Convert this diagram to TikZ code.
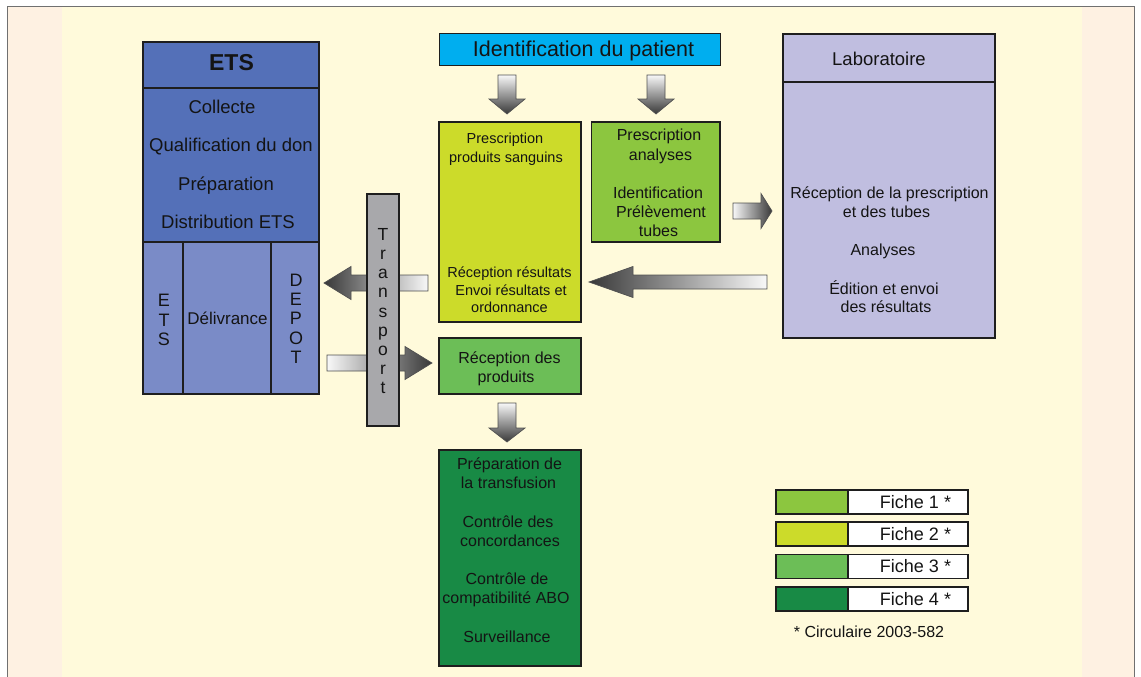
\documentclass[tikz,border=0pt]{standalone}
\usepackage{fontspec}
\setmainfont{Liberation Sans}
\definecolor{bgyel}{HTML}{FFFADB}
\definecolor{bgpeach}{HTML}{FEF1E2}
\definecolor{framegray}{HTML}{707070}
\definecolor{etsblue}{HTML}{5470B8}
\definecolor{etslight}{HTML}{7A8BC7}
\definecolor{trgray}{HTML}{A8A8AB}
\definecolor{idcyan}{HTML}{00AEEF}
\definecolor{ficheA}{HTML}{8CC63F}
\definecolor{ficheB}{HTML}{CCDB2A}
\definecolor{ficheC}{HTML}{6CBE57}
\definecolor{ficheD}{HTML}{188A45}
\definecolor{labviolet}{HTML}{C0BEE0}
\definecolor{arrdark}{HTML}{383838}
\definecolor{arrlight}{HTML}{F8F8F8}
\definecolor{arredge}{HTML}{505050}
\definecolor{edge}{HTML}{1E1E1E}
\definecolor{ink}{HTML}{141414}
\begin{document}
\begin{tikzpicture}[x=1pt,y=-1pt,
  box/.style={draw=edge, line width=1.4pt, rectangle, inner sep=0pt, outer sep=0pt, anchor=north west},
  lbl/.style={inner sep=0pt, text height=1.25em, text depth=0em, text=ink},
  fa/.style={lbl, font=\fontsize{14.5}{17}\selectfont},
  fb/.style={lbl, font=\fontsize{16}{19}\selectfont},
  fc/.style={lbl, font=\fontsize{18}{21}\selectfont},
  fd/.style={lbl, font=\fontsize{18.5}{21}\selectfont},
  blockarrow/.style={draw=arredge, line width=0.7pt, line join=miter}
]
\useasboundingbox (0,0) rectangle (1141,677);
\fill[white] (0,0) rectangle (1141,677);
\fill[bgpeach] (8,7) rectangle (1135,677);
\fill[bgyel] (62,7) rectangle (1082,677);
\draw[framegray, line width=1.8pt] (7.5,677) -- (7.5,6.5) -- (1134.5,6.5) -- (1134.5,677);

% ---------- ETS ----------
\node[box, fill=etsblue, minimum width=176pt, minimum height=46pt] (etshead) at (143,42) {};
\node[box, fill=etsblue, minimum width=176pt, minimum height=154pt] (etsbody) at (143,88) {};
\node[box, fill=etslight, minimum width=40pt, minimum height=152pt] (etscol) at (143,242) {};
\node[box, fill=etslight, minimum width=88pt, minimum height=152pt] (deliv) at (183,242) {};
\node[box, fill=etslight, minimum width=48pt, minimum height=152pt] (depot) at (271,242) {};
\node[lbl, font=\fontsize{23}{26}\selectfont\bfseries] (etsT) at (231.5,64.5) {ETS};
\node[fd] (etsA) at (222,107) {Collecte};
\node[fd] (etsB) at (231,145.5) {Qualification du don};
\node[fd] (etsC) at (226,184) {Préparation};
\node[fd] (etsD) at (228,222) {Distribution ETS};
\node[lbl, font=\fontsize{17}{20}\selectfont] (delivT) at (227.5,318.5) {Délivrance};
\foreach \l [count=\i] in {E,T,S}
  \node[fc] (etsl\i) at (164, 281.4+\i*19.2) {\l};
\foreach \l [count=\i] in {D,E,P,O,T}
  \node[fc] (depl\i) at (296, 260.6+\i*19.3) {\l};

% ---------- arrows behind transport ----------
\coordinate (aLtail) at (428,283);
\coordinate (aLtip) at (324,283);
\path[blockarrow, left color=arrdark, right color=arrlight]
  (428,275) -- (351,275) -- (351,266.5) -- (aLtip) -- (351,299.5) -- (351,291) -- (428,291) -- cycle;
\coordinate (aRtail) at (327,363);
\coordinate (aRtip) at (432,363);
\path[blockarrow, left color=arrlight, right color=arrdark]
  (327,355) -- (405,355) -- (405,346.5) -- (aRtip) -- (405,379.5) -- (405,371) -- (327,371) -- cycle;

% ---------- transport ----------
\node[box, fill=trgray, minimum width=32pt, minimum height=232pt] (transport) at (367,194) {};
\foreach \l [count=\i] in {T,r,a,n,s,p,o,r,t}
  \node[lbl, font=\fontsize{17.5}{20}\selectfont] (tr\i) at (383, 214.8+\i*19.2) {\l};

% ---------- patient ----------
\node[box, fill=idcyan, minimum width=281pt, minimum height=32pt] (idp) at (439.5,33.5) {};
\node[lbl, font=\fontsize{21.5}{24}\selectfont] (idpT) at (583.5,50) {Identification du patient};

% down arrows
\path[blockarrow, top color=arrlight, bottom color=arrdark]
  (498,75) -- (516,75) -- (516,99) -- (525,99) -- (507,114) -- (489,99) -- (498,99) -- cycle;
\path[blockarrow, top color=arrlight, bottom color=arrdark]
  (647,75) -- (665,75) -- (665,99) -- (674,99) -- (656,114) -- (638,99) -- (647,99) -- cycle;

% ---------- prescription boxes ----------
\node[box, fill=ficheB, minimum width=142pt, minimum height=200pt] (presc) at (439,122) {};
\node[fa] (pA) at (505,137) {Prescription};
\node[fa] (pB) at (506,156) {produits sanguins};
\node[fa] (pC) at (509.5,271) {Réception résultats};
\node[fa] (pD) at (511,289) {Envoi résultats et};
\node[fa] (pE) at (509.5,306.5) {ordonnance};

\node[box, fill=ficheA, minimum width=128.5pt, minimum height=120pt] (anal) at (591.5,122) {};
\node[fb] (aA) at (659,134.5) {Prescription};
\node[fb] (aB) at (660.5,154) {analyses};
\node[fb] (aC) at (658,192) {Identification};
\node[fb] (aD) at (661,211) {Prélèvement};
\node[fb] (aE) at (658.5,230) {tubes};

% arrow to lab
\path[blockarrow, left color=arrlight, right color=arrdark]
  (733,203) -- (761,203) -- (761,193.5) -- (772,211) -- (761,228.5) -- (761,219) -- (733,219) -- cycle;
% arrow from lab
\path[blockarrow, left color=arrdark, right color=arrlight]
  (767,275) -- (633,275) -- (633,266.5) -- (589,282) -- (633,297.5) -- (633,289) -- (767,289) -- cycle;

% ---------- laboratoire ----------
\node[box, fill=labviolet, minimum width=212pt, minimum height=48pt] (labhead) at (783,34) {};
\node[box, fill=labviolet, minimum width=212pt, minimum height=256pt] (labbody) at (783,82) {};
\node[fd] (labT) at (879,59) {Laboratoire};
\node[fb] (lA) at (889.5,192) {Réception de la prescription};
\node[fb] (lB) at (886.5,211) {et des tubes};
\node[fb] (lC) at (883,249) {Analyses};
\node[fb] (lD) at (884,288) {Édition et envoi};
\node[fb] (lE) at (886,306.5) {des résultats};

% ---------- reception / transfusion ----------
\node[box, fill=ficheC, minimum width=142pt, minimum height=56pt] (recp) at (439,338) {};
\node[fb] (rA) at (509.5,357) {Réception des};
\node[fb] (rB) at (506,376) {produits};

\path[blockarrow, top color=arrlight, bottom color=arrdark]
  (498,403) -- (516,403) -- (516,428) -- (525,428) -- (507,442) -- (489,428) -- (498,428) -- cycle;

\node[box, fill=ficheD, minimum width=142pt, minimum height=216pt] (transf) at (439,450) {};
\node[fb] (tA) at (509.5,463.5) {Préparation de};
\node[fb] (tB) at (508.5,482.5) {la transfusion};
\node[fb] (tC) at (508,521) {Contrôle des};
\node[fb] (tD) at (510,540) {concordances};
\node[fb] (tE) at (507,578) {Contrôle de};
\node[fb] (tF) at (506,597.5) {compatibilité ABO};
\node[fb] (tG) at (507,636) {Surveillance};

% ---------- legend ----------
\foreach \c/\yy [count=\i] in {ficheA/490, ficheB/522, ficheC/554.5, ficheD/587}{
  \node[box, fill=\c, minimum width=72pt, minimum height=24pt] (lc\i) at (776,\yy) {};
  \node[box, fill=white, minimum width=120pt, minimum height=24pt] (lt\i) at (848,\yy) {};
  \node[fc] (ltx\i) at (915.5,\yy+12) {Fiche \i\ *};
}
\node[fb] (circ) at (869,631.5) {* Circulaire 2003-582};
\end{tikzpicture}
\end{document}
